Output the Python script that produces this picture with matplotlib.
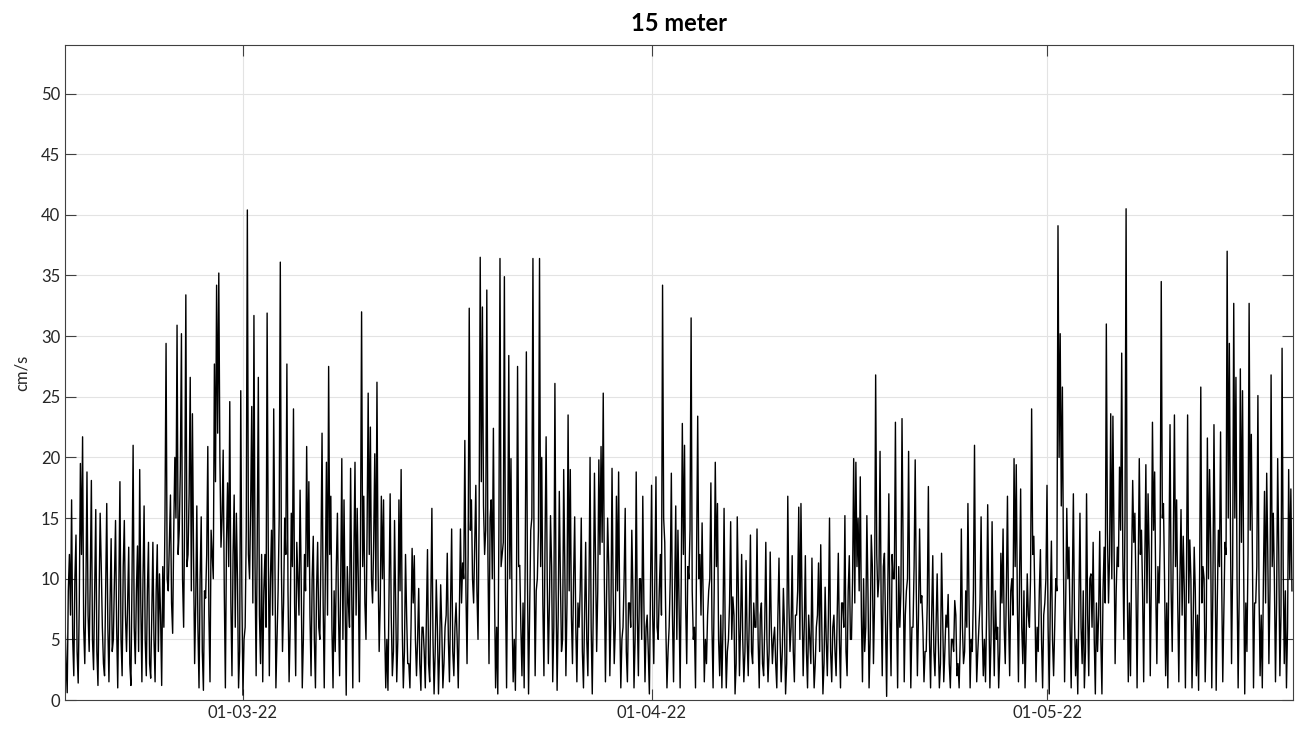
import matplotlib
matplotlib.use("Agg")
import matplotlib.pyplot as plt
import matplotlib.dates as mdates
import pandas as pd

# current speed at 15 m
# speed: 4-hourly peaks/troughs, speed_mid: values between them (offset 2 h)
start = "2022-02-15 12:00"
speed = [
    6.5, 0.6, 12.0, 16.5, 2.0, 13.6, 1.4, 19.5, 21.7, 3.0,
    18.8, 4.0, 18.1, 2.5, 15.7, 1.2, 15.4, 6.0, 2.0, 16.2,
    1.5, 13.3, 5.0, 14.8, 1.0, 18.0, 2.0, 14.8, 4.0, 12.6,
    1.2, 21.0, 3.0, 12.7, 19.0, 1.5, 16.0, 2.0, 13.0, 1.8,
    13.0, 1.5, 12.8, 10.4, 1.2, 6.0, 29.4, 9.0, 16.9, 5.5,
    20.0, 30.9, 14.0, 30.2, 6.0, 33.4, 12.0, 26.6, 23.6, 3.0,
    16.0, 1.0, 15.1, 0.8, 8.4, 20.9, 1.5, 12.0, 27.7, 34.2,
    35.2, 12.6, 20.6, 1.0, 17.9, 24.6, 2.0, 16.9, 15.4, 1.0,
    25.5, 0.4, 6.0, 40.4, 10.0, 24.2, 31.7, 2.0, 26.6, 3.0,
    1.5, 12.0, 31.9, 2.0, 14.0, 24.0, 1.0, 9.0, 36.1, 4.0,
    15.0, 27.7, 1.5, 15.4, 24.0, 2.0, 10.0, 17.3, 1.0, 12.0,
    20.9, 18.0, 2.0, 13.5, 1.0, 13.0, 5.0, 22.0, 1.0, 19.6,
    27.5, 16.8, 1.0, 4.0, 15.4, 2.0, 19.9, 16.5, 0.4, 8.0,
    19.1, 1.0, 19.6, 15.8, 1.5, 32.0, 16.8, 5.0, 25.3, 22.5,
    8.0, 20.3, 26.2, 4.0, 16.8, 16.5, 1.0, 0.8, 17.0, 2.0,
    14.8, 1.5, 16.5, 19.0, 1.0, 12.0, 3.0, 1.0, 12.5, 11.9,
    2.0, 9.2, 0.8, 6.0, 1.0, 12.4, 1.5, 15.8, 0.5, 9.9,
    0.5, 9.5, 1.0, 6.0, 12.1, 1.5, 14.1, 2.0, 8.0, 1.0,
    14.1, 11.3, 21.4, 3.0, 32.3, 16.5, 8.0, 17.7, 5.0, 36.5,
    32.4, 12.0, 33.8, 3.0, 16.5, 22.4, 1.0, 0.5, 36.4, 12.0,
    34.9, 1.0, 28.4, 19.9, 1.5, 0.8, 27.5, 11.1, 2.0, 1.0,
    28.7, 0.5, 14.0, 36.4, 2.0, 10.0, 36.4, 20.0, 2.0, 21.7,
    3.0, 15.2, 1.5, 26.1, 0.8, 17.2, 4.0, 19.0, 2.0, 23.5,
    19.0, 3.0, 15.1, 1.5, 6.0, 15.0, 1.0, 13.0, 2.0, 20.0,
    0.5, 18.7, 4.0, 19.8, 20.9, 25.3, 1.5, 15.0, 2.0, 19.1,
    3.0, 16.8, 18.8, 1.0, 6.0, 15.8, 1.5, 8.0, 14.0, 1.0,
    18.8, 2.0, 10.0, 16.8, 1.5, 7.0, 0.5, 17.7, 3.0, 18.4,
    5.0, 12.0, 34.2, 13.0, 1.0, 6.0, 18.7, 1.5, 16.0, 14.0,
    1.0, 22.8, 21.0, 3.0, 10.0, 31.5, 5.0, 1.0, 23.4, 12.0,
    14.6, 1.5, 3.0, 9.0, 17.9, 1.0, 19.6, 16.2, 2.0, 1.0,
    15.8, 1.0, 5.0, 14.7, 8.5, 0.5, 15.1, 2.0, 12.0, 1.5,
    11.5, 2.0, 13.6, 3.0, 6.0, 14.1, 1.0, 8.0, 2.0, 13.0,
    1.5, 12.2, 3.0, 6.0, 1.0, 11.7, 1.5, 9.2, 0.5, 16.8,
    4.0, 11.9, 1.5, 7.0, 15.9, 16.2, 2.0, 11.9, 1.0, 5.0,
    11.7, 1.0, 6.0, 11.3, 12.8, 0.5, 9.3, 2.0, 15.0, 1.5,
    7.0, 2.0, 12.1, 1.0, 8.0, 15.2, 2.0, 11.9, 5.0, 19.9,
    19.6, 15.0, 18.4, 1.5, 4.0, 15.2, 1.0, 13.6, 3.0, 26.8,
    8.5, 20.5, 2.0, 12.1, 0.3, 17.0, 2.0, 10.0, 22.9, 1.0,
    6.0, 23.2, 1.5, 9.0, 20.5, 1.0, 6.0, 19.8, 2.0, 14.1,
    8.6, 1.5, 4.0, 17.6, 1.0, 11.9, 2.0, 10.4, 1.0, 12.1,
    1.5, 7.0, 8.7, 1.0, 5.0, 8.2, 2.0, 1.0, 14.1, 3.0,
    9.0, 16.2, 1.0, 4.0, 21.0, 1.5, 6.0, 15.1, 2.0, 1.5,
    16.1, 1.0, 14.7, 2.0, 5.0, 1.0, 12.1, 14.1, 3.0, 16.8,
    2.0, 10.0, 19.9, 19.4, 1.5, 17.4, 3.0, 1.0, 10.4, 6.0,
    24.0, 13.5, 1.5, 4.0, 12.4, 1.0, 8.0, 17.7, 0.5, 13.1,
    2.0, 10.0, 39.1, 30.2, 25.8, 1.5, 15.8, 12.6, 1.0, 17.0,
    2.0, 0.5, 15.4, 3.0, 1.0, 17.0, 2.0, 10.4, 13.0, 0.5,
    4.0, 13.9, 0.5, 12.6, 31.0, 8.0, 23.6, 23.4, 3.0, 12.6,
    19.2, 28.6, 5.0, 40.5, 1.5, 2.0, 18.1, 15.4, 1.0, 19.9,
    14.0, 1.5, 19.4, 17.0, 2.0, 22.9, 18.8, 3.0, 8.0, 34.5,
    16.2, 2.0, 1.0, 22.7, 4.0, 23.5, 16.5, 1.5, 15.7, 13.5,
    1.0, 23.5, 13.2, 1.0, 12.6, 2.0, 0.8, 25.8, 11.0, 1.5,
    21.6, 19.0, 1.0, 22.7, 0.8, 14.0, 22.1, 1.5, 13.0, 37.0,
    29.4, 3.0, 32.7, 26.6, 1.0, 27.3, 25.5, 0.5, 4.0, 32.7,
    21.9, 1.0, 8.0, 25.1, 2.0, 1.0, 17.2, 18.7, 3.0, 26.8,
    15.4, 1.5, 19.9, 2.0, 29.0, 3.0, 1.0, 19.0, 17.4,
]
speed_mid = [
    3, 9, 7, 5, 10, 4, 8, 12, 6, 9,
    7, 10, 5, 9, 4, 8, 11, 3, 9, 6,
    8, 4, 10, 6, 9, 5, 11, 7, 8, 3,
    10, 6, 9, 4, 8, 10, 5, 9, 3, 7,
    5, 9, 4, 7, 11, 15, 10, 13, 8, 14,
    15, 12, 19, 10, 16, 11, 17, 9, 12, 8,
    6, 10, 4, 9, 12, 7, 14, 10, 18, 22,
    20, 15, 9, 13, 11, 8, 12, 6, 10, 4,
    9, 5, 14, 12, 16, 8, 11, 13, 7, 12,
    9, 6, 13, 10, 7, 12, 5, 15, 11, 8,
    12, 9, 6, 11, 8, 13, 7, 10, 5, 9,
    11, 7, 10, 5, 9, 6, 12, 8, 10, 7,
    12, 6, 9, 11, 7, 10, 5, 8, 11, 6,
    9, 12, 7, 10, 13, 11, 8, 14, 12, 10,
    13, 9, 11, 8, 10, 6, 5, 9, 7, 4,
    8, 5, 9, 6, 4, 7, 3, 6, 8, 5,
    5, 3, 6, 4, 7, 3, 8, 5, 4, 6,
    4, 6, 3, 7, 5, 8, 4, 6, 5, 7,
    8, 10, 9, 12, 14, 10, 13, 9, 15, 18,
    16, 14, 12, 15, 10, 9, 6, 14, 11, 13,
    9, 12, 10, 7, 5, 9, 11, 6, 8, 12,
    10, 7, 15, 12, 9, 14, 11, 8, 13, 10,
    8, 11, 6, 9, 7, 10, 5, 11, 8, 9,
    7, 10, 6, 8, 9, 4, 7, 5, 9, 6,
    8, 11, 9, 12, 13, 10, 8, 11, 7, 9,
    6, 9, 7, 5, 10, 4, 8, 6, 9, 5,
    7, 10, 5, 8, 6, 4, 9, 7, 10, 6,
    9, 7, 15, 6, 4, 10, 7, 9, 5, 8,
    10, 12, 8, 11, 14, 9, 6, 12, 10, 7,
    8, 5, 7, 10, 6, 9, 11, 5, 7, 6,
    6, 4, 8, 5, 7, 3, 9, 6, 5, 4,
    5, 7, 4, 8, 6, 5, 7, 3, 6, 5,
    4, 6, 5, 3, 7, 5, 4, 6, 3, 8,
    6, 4, 7, 9, 5, 8, 6, 4, 7, 3,
    5, 3, 7, 4, 6, 3, 5, 7, 4, 6,
    4, 7, 5, 8, 6, 4, 9, 5, 10, 8,
    11, 9, 7, 10, 6, 9, 5, 11, 8, 12,
    10, 8, 11, 6, 9, 7, 12, 10, 8, 11,
    9, 12, 7, 10, 8, 6, 11, 9, 7, 8,
    6, 4, 8, 5, 7, 4, 6, 5, 3, 7,
    4, 6, 3, 5, 4, 7, 3, 5, 6, 4,
    6, 8, 5, 9, 7, 4, 8, 6, 5, 7,
    8, 5, 7, 9, 6, 4, 8, 6, 9, 7,
    9, 7, 11, 8, 10, 6, 9, 5, 7, 10,
    12, 8, 6, 9, 5, 7, 10, 6, 8, 5,
    6, 9, 20, 16, 11, 8, 10, 6, 9, 7,
    5, 8, 6, 9, 4, 7, 10, 6, 5, 8,
    7, 5, 9, 8, 14, 12, 10, 13, 9, 11,
    14, 12, 15, 10, 8, 11, 13, 9, 10, 12,
    9, 11, 8, 12, 10, 14, 9, 11, 13, 15,
    10, 8, 12, 9, 13, 11, 8, 10, 7, 9,
    11, 8, 10, 6, 9, 7, 11, 8, 10, 6,
    10, 13, 9, 12, 8, 11, 10, 7, 12, 15,
    14, 11, 15, 10, 9, 13, 11, 8, 12, 14,
    12, 8, 11, 9, 7, 10, 8, 12, 9, 11,
    10, 8, 12, 7, 11, 9, 6, 10, 9,
]
xticks = pd.to_datetime(["2022-03-01", "2022-04-01", "2022-05-01"])
yticks = list(range(0, 55, 5))

t0 = pd.Timestamp(start)
s1 = pd.Series(speed, index=pd.date_range(t0, periods=len(speed), freq="4h"))
s2 = pd.Series(speed_mid, index=pd.date_range(t0 + pd.Timedelta("2h"),
                                              periods=len(speed_mid), freq="4h"))
series = pd.concat([s1, s2]).sort_index()

plt.rcParams["font.family"] = ["Lato", "DejaVu Sans"]

fig = plt.figure(figsize=(12.95, 7.33), dpi=100)
ax = fig.add_axes([0.0502, 0.045, 0.9483, 0.8936])
ax.plot(series.index, series.values, color="k", lw=1.0)

ax.set_xlim(t0, pd.Timestamp("2022-05-19 16:00"))
ax.set_ylim(0, 54)
ax.set_xticks(xticks)
ax.xaxis.set_major_formatter(mdates.DateFormatter("%d-%m-%y"))
ax.set_yticks(yticks)
ax.grid(True, color="#e3e3e3", lw=0.8)
ax.set_axisbelow(True)
ax.tick_params(direction="in", length=8, width=0.8, color="#404040",
               labelsize=12, labelcolor="#262626", top=True, right=True)
for s in ax.spines.values():
    s.set_color("#404040")
    s.set_linewidth(0.8)

ax.set_ylabel("cm/s", fontsize=12, color="#262626", labelpad=8)
ax.set_title("15 meter", fontsize=17, fontweight="bold", pad=10)

plt.savefig("out.png")
